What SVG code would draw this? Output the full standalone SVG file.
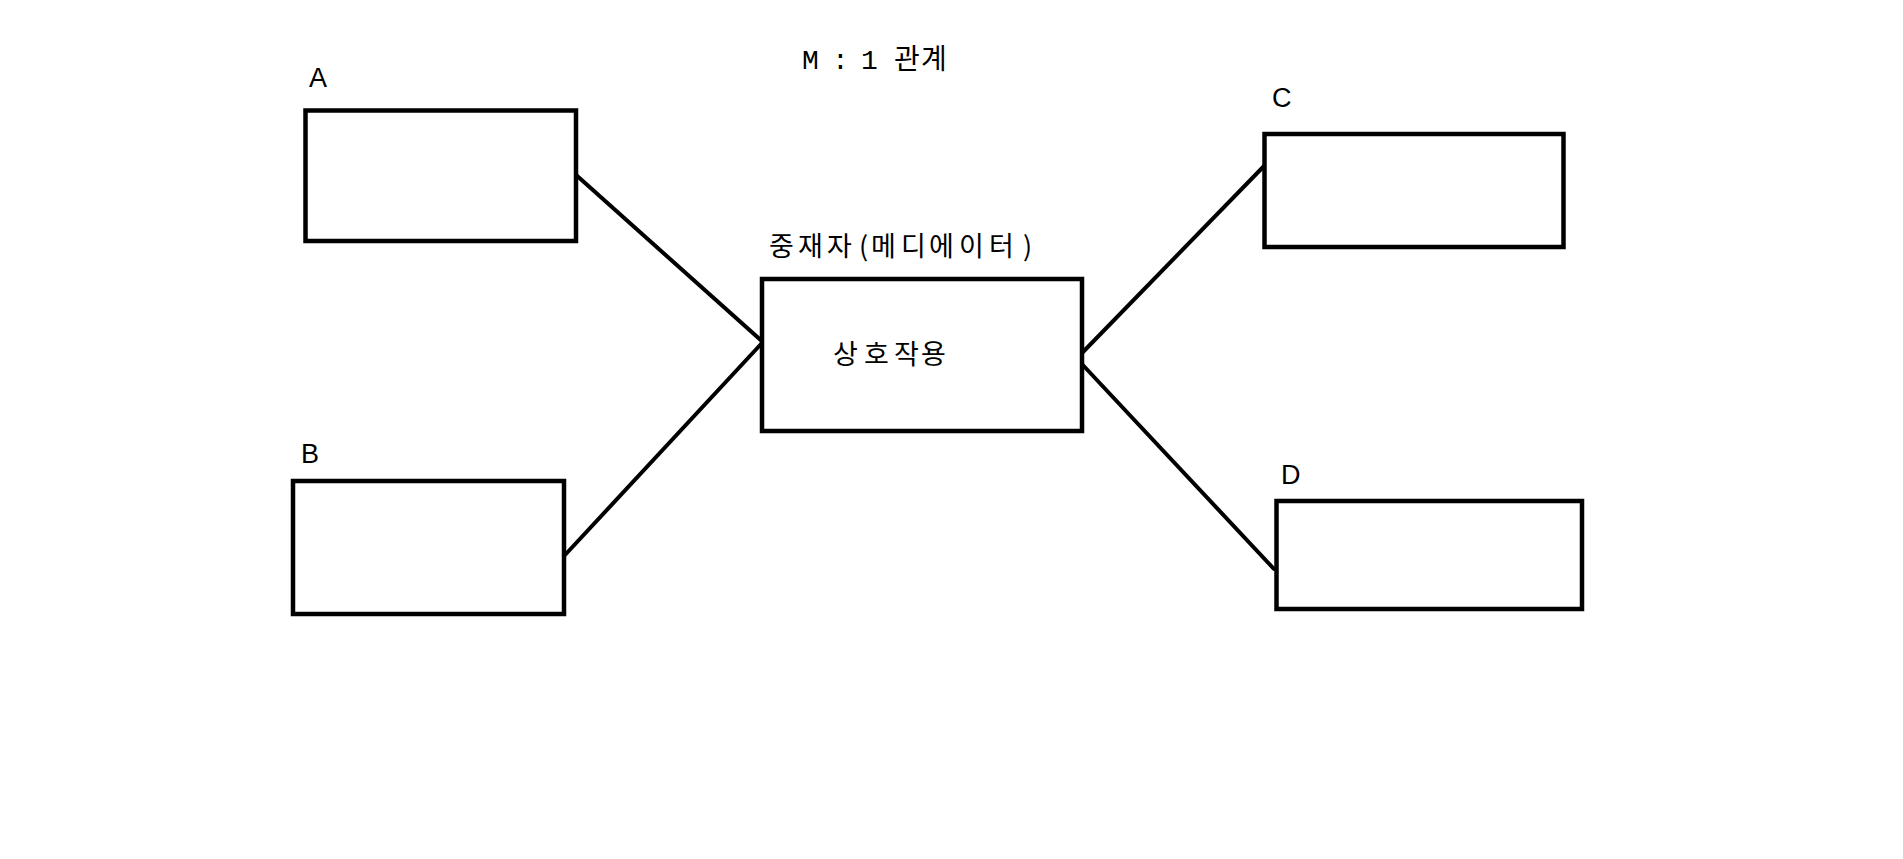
<svg xmlns="http://www.w3.org/2000/svg" width="1903" height="859" viewBox="0 0 1903 859">
  <style>
    .box { fill: #ffffff; stroke: #000000; stroke-width: 4.5; }
    .conn { stroke: #000000; stroke-width: 4; fill: none; stroke-linecap: round; }
    .lbl { font-family: "Liberation Sans Narrow", "Liberation Sans", sans-serif; font-size: 27px; fill: #000000; }
    .kr { font-family: "Noto Sans CJK KR", "Noto Sans", sans-serif; font-size: 27px; fill: #000000; }
    .title { font-family: "Liberation Mono", "Noto Sans CJK KR", monospace; font-size: 28px; fill: #000000; }
  </style>
  <rect x="0" y="0" width="1903" height="859" fill="#ffffff"/>

  <g id="title">
    <text class="title" x="802 818 832 846 861 877 894 921" y="69">M : 1 관계</text>
  </g>

  <g id="connectors">
    <line class="conn" x1="575" y1="174" x2="764" y2="343"/>
    <line class="conn" x1="565" y1="555" x2="762" y2="343"/>
    <line class="conn" x1="1083" y1="352" x2="1266" y2="164"/>
    <line class="conn" x1="1080" y1="362" x2="1274" y2="569"/>
  </g>

  <g id="node-A">
    <text class="lbl" x="309" y="87">A</text>
    <rect class="box" x="305.5" y="110.5" width="270.5" height="130.5"/>
  </g>

  <g id="node-B">
    <text class="lbl" x="301" y="463">B</text>
    <rect class="box" x="293" y="481" width="271" height="133"/>
  </g>

  <g id="node-mediator">
    <text class="kr" x="769 798 827 859 871 901 929 959 989 1023" y="256">중재자(메디에이터)</text>
    <rect class="box" x="762" y="279" width="320" height="152"/>
    <text class="kr" x="833 864 894 921" y="364">상호작용</text>
  </g>

  <g id="node-C">
    <text class="lbl" x="1272" y="107">C</text>
    <rect class="box" x="1264.5" y="134" width="299" height="113"/>
  </g>

  <g id="node-D">
    <text class="lbl" x="1281" y="484">D</text>
    <rect class="box" x="1276.5" y="501" width="305.5" height="108"/>
  </g>
</svg>
